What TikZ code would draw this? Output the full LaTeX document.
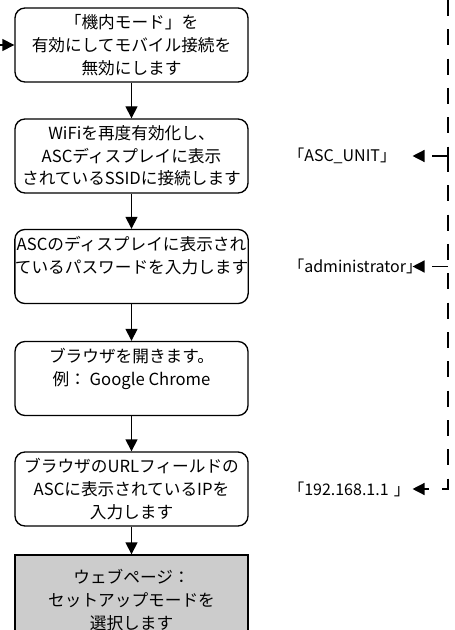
\documentclass[tikz,border=0pt]{standalone}
\usepackage{fontspec}
\setmainfont{Noto Sans CJK JP}
\usetikzlibrary{arrows.meta}

\begin{document}
\begin{tikzpicture}[x=0.75pt,y=-0.75pt,font=\fontsize{12.5}{17}\selectfont,
 stepbox/.style={draw,line width=1pt,rounded corners=7.5pt,align=center,inner sep=0pt,
  minimum width=174.75pt,minimum height=55.5pt},
 pagebox/.style={stepbox,sharp corners,fill=black!20,minimum height=67.5pt},
 lab/.style={anchor=west,inner sep=0pt,text width=93pt,align=left,font=\fontsize{12}{15}\selectfont},
 flow/.style={line width=1pt,-{Triangle[length=9pt,width=9pt]}},
 link/.style={flow,dash pattern=on 12pt off 10pt}]
\clip (0,0) rectangle (454,630);
\node[stepbox] (mode) at (131.5,45) {「機内モード」を\\有効にしてモバイル接続を\\無効にします};
\node[stepbox] (wifi) at (131.5,156) {WiFiを再度有効化し、\\ASCディスプレイに表示\\されているSSIDに接続します};
\node[stepbox] (pass) at (131.5,266.5) {ASCのディスプレイに表示され\\ているパスワードを入力します\\\mbox{}};
\node[stepbox] (browser) at (131.5,378.5) {ブラウザを開きます。\\例： Google Chrome\\\mbox{}};
\node[stepbox] (url) at (131.5,489) {ブラウザのURLフィールドの\\ASCに表示されているIPを\\入力します};
\node[pagebox] (setup) at (131.5,600) {ウェブページ：\\セットアップモードを\\選択します};
\node[lab] (ssid) at (288,156) {「ASC\_UNIT」};
\node[lab] (pw) at (288,266.5) {「administrator」};
\node[lab] (ip) at (288,489) {「192.168.1.1 」};
\coordinate (in) at (0,45);
\coordinate (top) at (448,0);
\coordinate (j1) at (448,156);
\coordinate (j2) at (448,266.5);
\draw[flow] (in) -- (mode.west);
\draw[flow] (mode.south) -- (wifi.north);
\draw[flow] (wifi.south) -- (pass.north);
\draw[flow] (pass.south) -- (browser.north);
\draw[flow] (browser.south) -- (url.north);
\draw[flow] (url.south) -- (setup.north);
\draw[link,-] (top) -- (j1);
\draw[link] (j1) -- (ssid.east);
\draw[link] (j2) -- (pw.east);
\draw[link] (j1) |- (ip.east);
\end{tikzpicture}
\end{document}
